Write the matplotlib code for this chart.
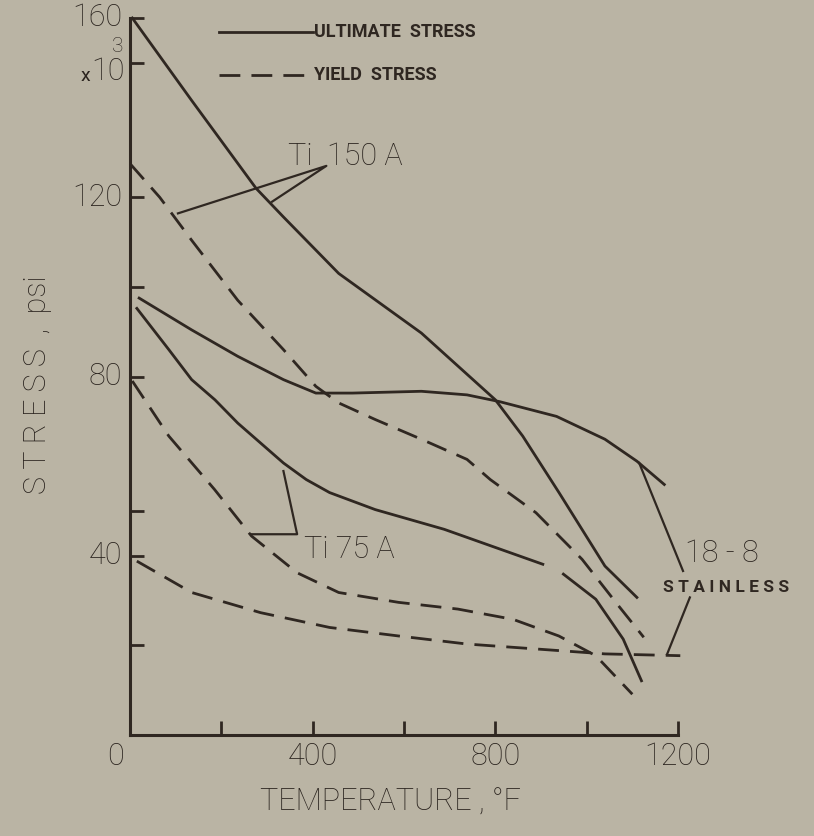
import numpy as np
import matplotlib
matplotlib.use('Agg')
import matplotlib.pyplot as plt

# values: temperature (F) vs stress (x10^3 psi)
ti150_ult_t = [5, 135, 276, 336, 457, 638, 800, 860, 940, 1040, 1110]
ti150_ult_s = [160, 141.6, 122, 115.6, 103, 89.7, 74.8, 66.7, 54, 37.7, 30.7]

ti150_yld_t = [0, 65, 135, 236, 336, 407, 457, 537, 638, 738, 789, 889, 990, 1070, 1125]
ti150_yld_s = [127.5, 120, 110.4, 97, 86, 77.8, 74.1, 70.4, 66, 61.5, 57, 49.6, 39.2, 28.8, 21.8]

# Ti 75A ultimate is broken into two pieces on the original
ti75_ult_t = [15, 85, 135, 186, 236, 336, 386, 437, 537, 688, 904]
ti75_ult_s = [95.2, 86, 79.3, 74.8, 69.6, 60.7, 57, 54.1, 50.3, 45.9, 38.1]
ti75_ult_t2 = [949, 1020, 1080, 1120]
ti75_ult_s2 = [35.9, 30.3, 21.4, 12.1]

ti75_yld_t = [5, 85, 185, 266, 366, 457, 588, 718, 839, 939, 1020, 1100]
ti75_yld_s = [79, 66.7, 54.8, 44.4, 36.2, 31.8, 29.6, 28.1, 25.8, 22.1, 17.7, 9.1]

ss_ult_t = [20, 135, 236, 336, 407, 487, 638, 738, 809, 934, 1040, 1110, 1170]
ss_ult_s = [97.5, 90.4, 84.5, 79.3, 76.3, 76.3, 76.7, 75.9, 74.4, 71.1, 66, 61.1, 55.9]

ss_yld_t = [15, 135, 286, 437, 588, 738, 889, 1040, 1205]
ss_yld_s = [38.8, 31.8, 27.3, 24, 22.1, 20.3, 19.2, 18.1, 17.7]

x_ticks = [200, 400, 600, 800, 1000, 1200]
x_labels = [0, 400, 800, 1200]
y_ticks = [20, 40, 50, 80, 100, 120, 150, 160]
y_labels = [40, 80, 120, 160]

bg = '#bab4a4'
ink = '#2f2721'
txt = '#2a231e'
plt.rcParams['lines.scale_dashes'] = False
plt.rcParams['font.family'] = ['Roboto', 'DejaVu Sans']

fig = plt.figure(figsize=(8.14, 8.36), dpi=100, facecolor=bg)
ax = fig.add_axes([130/814, 1 - 735/836, 548/814, 717/836])
ax.set_facecolor(bg)
ax.set_xlim(0, 1200)
ax.set_ylim(0, 160)

lw = 2.0
dash = (0, (15, 8))
for t, s in [(ti150_ult_t, ti150_ult_s), (ti75_ult_t, ti75_ult_s),
             (ti75_ult_t2, ti75_ult_s2), (ss_ult_t, ss_ult_s)]:
    ax.plot(t, s, color=ink, lw=lw, clip_on=False, solid_joinstyle='round')
for t, s in [(ti150_yld_t, ti150_yld_s), (ti75_yld_t, ti75_yld_s), (ss_yld_t, ss_yld_s)]:
    ax.plot(t, s, color=ink, lw=lw, ls=dash, clip_on=False)

# axes look
for side in ['top', 'right']:
    ax.spines[side].set_visible(False)
for side in ['left', 'bottom']:
    ax.spines[side].set_color(ink)
    ax.spines[side].set_linewidth(2.2)
ax.set_xticks(x_ticks)
ax.set_yticks(y_ticks)
ax.set_xticklabels([])
ax.set_yticklabels([])
ax.tick_params(direction='in', length=10, width=2, color=ink)

lab_kw = dict(color=txt, fontsize=22, fontweight='light')
for v in x_labels:
    ax.text(v if v else -32, -1.5, str(v), ha='center', va='top', **lab_kw)
for v in y_labels:
    ax.text(-17, v, str(v), ha='right', va='center', **lab_kw)

fig.text(90/814, 1 - 76/836, 'x', ha='right', va='center', color=txt, fontsize=14)
fig.text(91/814, 1 - 72/836, '10', ha='left', va='center', **lab_kw)
fig.text(112/814, 1 - 46/836, '3', ha='left', va='center', color=txt, fontsize=15,
         fontweight='light')

fig.text(38/814, 1 - 385/836, 'S T R E S S  ,  psi', rotation=90, ha='center', va='center', **lab_kw)
fig.text(390/814, 1 - 802/836, 'TEMPERATURE , °F', ha='center', va='center', **lab_kw)

# legend
leg_kw = dict(color=ink, fontsize=13, fontweight='bold', va='center', ha='left', clip_on=False)
ax.plot([195, 400], [156.8, 156.8], color=ink, lw=lw, clip_on=False)
ax.text(404, 156.8, 'ULTIMATE  STRESS', **leg_kw)
ax.plot([195, 400], [147.2, 147.2], color=ink, lw=lw, ls=dash, clip_on=False)
ax.text(404, 147.2, 'YIELD  STRESS', **leg_kw)

# curve labels with pointer lines
ax.text(345, 129, 'Ti  150 A', ha='left', va='center', **lab_kw)
ax.plot([105, 430, 311], [116.4, 127, 119], color=ink, lw=1.6)
ax.text(380, 41.5, 'Ti 75 A', ha='left', va='center', **lab_kw)
ax.plot([336, 366, 266], [58.9, 44.8, 44.8], color=ink, lw=1.6)
ax.text(1215, 40.5, '18 - 8', ha='left', va='center', **lab_kw)
ax.plot([1211, 1115], [36.6, 60.7], color=ink, lw=1.6, clip_on=False)
ax.text(1168, 33, 'S T A I N L E S S', ha='left', va='center', color=ink, fontsize=12.5,
        fontweight='bold', clip_on=False)
ax.plot([1226, 1176], [30.7, 18], color=ink, lw=1.6, clip_on=False)

fig.savefig('out.png', dpi=100, facecolor=bg)
